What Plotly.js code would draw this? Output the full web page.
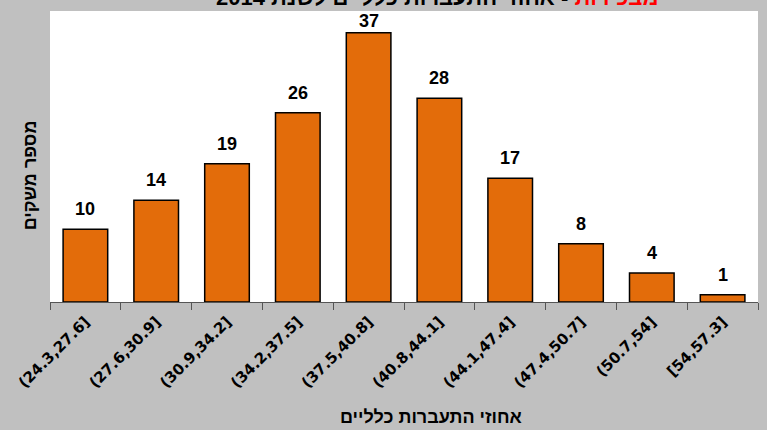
<!DOCTYPE html>
<html>
<head>
<meta charset="utf-8">
<script src="https://cdn.plot.ly/plotly-3.0.1.min.js"></script>
<style>html,body{margin:0;padding:0;background:#C0C0C0;}#chart{width:767px;height:430px;}</style>
</head>
<body>
<div id="chart"></div>
<script>
const categories = ["(24.3,27.6]","(27.6,30.9]","(30.9,34.2]","(34.2,37.5]","(37.5,40.8]","(40.8,44.1]","(44.1,47.4]","(47.4,50.7]","(50.7,54]","[54,57.3]"];
const counts = [10,14,19,26,37,28,17,8,4,1];
const titleRed = "מבכירות";
const titleRest = " - אחוזי התעברות כלליים לשנת 2014";
const xTitle = "אחוזי התעברות כלליים";
const yTitle = "מספר משקים";

const FONT = "Liberation Sans, Arial, sans-serif";
const Y_MAX = 40;
const MARGIN = {l: 50, r: 9, t: 11, b: 128};
const PLOT_H = 430 - MARGIN.t - MARGIN.b;
const LABEL_H = 22;

const trace = {
  type: "bar",
  x: categories,
  y: counts,
  width: 0.63,
  marker: {color: "#E36C0A", line: {color: "#000000", width: 1.5}},
  hoverinfo: "skip"
};

// value labels sit above each bar, but are kept inside the plot area (like Excel does)
const valueLabels = categories.map((c, i) => {
  const space = (Y_MAX - counts[i]) * PLOT_H / Y_MAX;
  const shift = Math.max(0, Math.min(8, space - LABEL_H));
  return {
    x: c, y: counts[i], xref: "x", yref: "y",
    text: String(counts[i]), showarrow: false,
    xanchor: "center", yanchor: "bottom", yshift: shift,
    font: {family: FONT, size: 18, color: "#000000", weight: "bold"}
  };
});

const layout = {
  width: 767, height: 430,
  margin: MARGIN,
  paper_bgcolor: "#C0C0C0",
  plot_bgcolor: "#FFFFFF",
  showlegend: false,
  font: {family: FONT},
  xaxis: {
    type: "category",
    showline: true, linecolor: "#555555", linewidth: 1,
    ticks: "outside", tickson: "boundaries", ticklen: 7, tickcolor: "#555555",
    tickangle: -45,
    ticklabelstandoff: 4,
    tickfont: {family: "DejaVu Sans, sans-serif", size: 15, color: "#000000", weight: "bold"},
    showgrid: false, zeroline: false, automargin: false
  },
  yaxis: {
    range: [0, Y_MAX],
    showticklabels: false, ticks: "", showgrid: false, zeroline: false, showline: false
  },
  annotations: valueLabels.concat([
    {
      xref: "paper", yref: "paper", x: 0.547, y: 1.045, xanchor: "center", yanchor: "middle",
      text: '<span style="color:#FF0000">' + titleRed + '</span>' + titleRest,
      showarrow: false,
      font: {family: FONT, size: 22, color: "#000000", weight: "bold"}
    },
    {
      xref: "paper", yref: "paper", x: 0.538, y: -0.395, xanchor: "center", yanchor: "middle",
      text: xTitle, showarrow: false,
      font: {family: FONT, size: 18, color: "#000000", weight: "bold"}
    },
    {
      xref: "paper", yref: "paper", x: -0.027, y: 0.435, xanchor: "center", yanchor: "middle",
      text: yTitle, showarrow: false, textangle: -90,
      font: {family: FONT, size: 18, color: "#000000", weight: "bold"}
    }
  ])
};

Plotly.newPlot("chart", [trace], layout, {displayModeBar: false, staticPlot: true});
</script>
</body>
</html>
